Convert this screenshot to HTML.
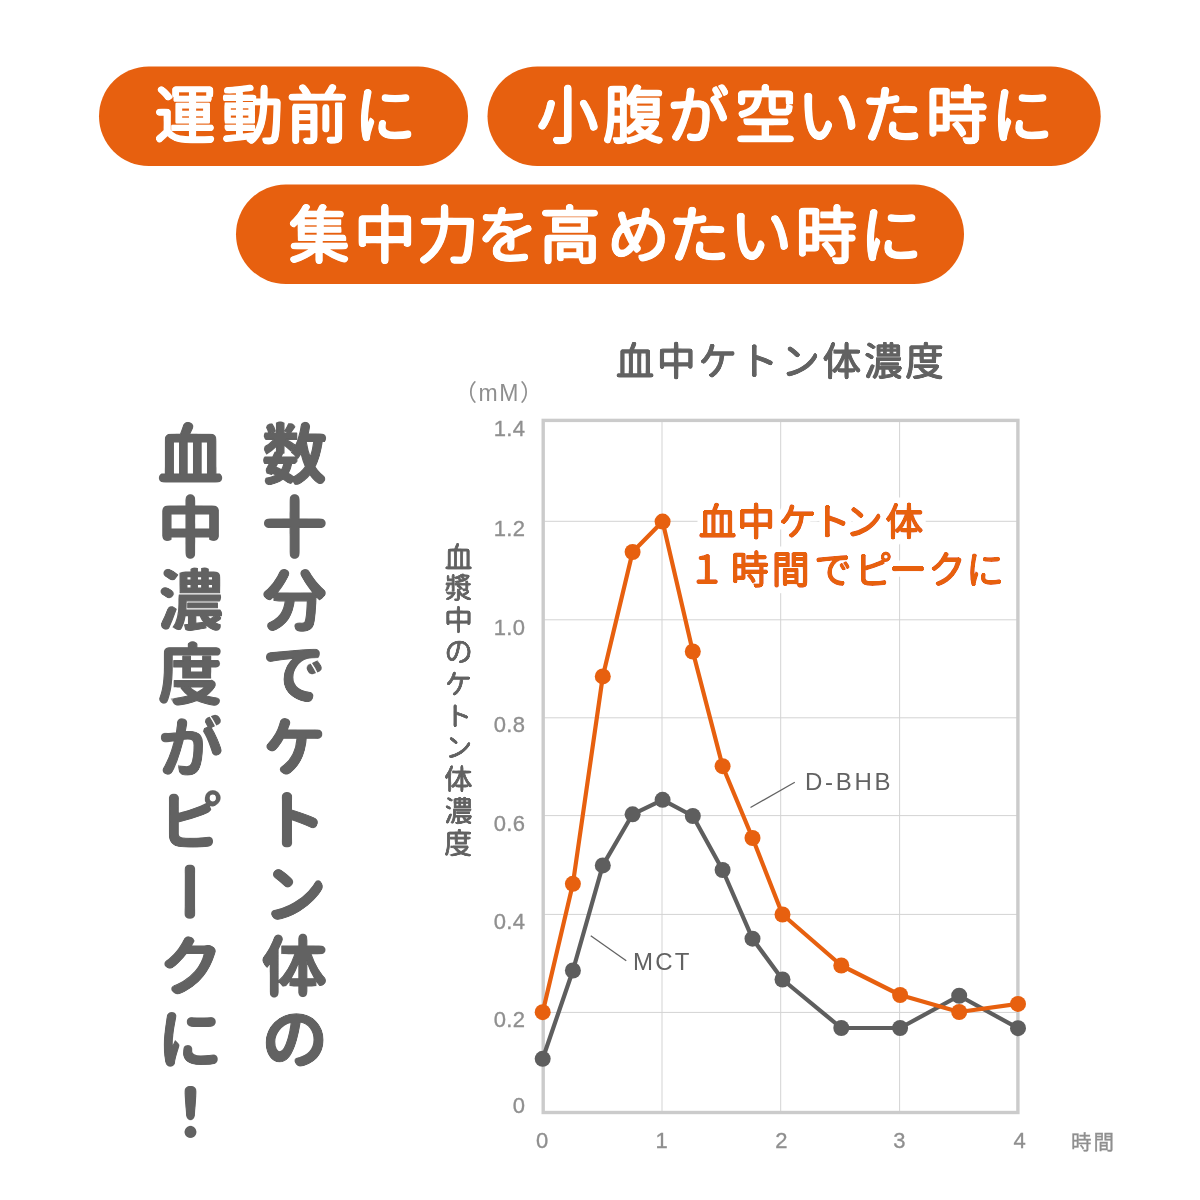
<!DOCTYPE html>
<html lang="ja"><head><meta charset="utf-8"><title>血中ケトン体濃度</title>
<style>
html,body{margin:0;padding:0;background:#fff}
body{width:1200px;height:1200px;overflow:hidden;position:relative}
svg{position:absolute;left:0;top:0;display:block}
text{font-family:'Liberation Sans','Noto Sans CJK JP',sans-serif}
.pill{font-size:62px;font-weight:400;fill:#fff;stroke:#fff;stroke-width:2.6px;stroke-linejoin:round;filter:url(#rndp)}
.big{writing-mode:vertical-rl;font-size:67px;font-weight:700;fill:#626262;stroke:#626262;stroke-width:1.2px;stroke-linejoin:round;letter-spacing:6.1px;filter:url(#rnd)}
.title{font-size:39px;font-weight:400;fill:#626262;stroke:#626262;stroke-width:1.4px;stroke-linejoin:round;letter-spacing:2.4px;filter:url(#rnd2)}
.ytitle{writing-mode:vertical-rl;font-size:29px;font-weight:400;fill:#626262;stroke:#626262;stroke-width:0.9px;stroke-linejoin:round;letter-spacing:2.8px;filter:url(#rnd3)}
.tick{font-size:22px;font-weight:400;fill:#8f8f8f;stroke:#8f8f8f;stroke-width:0.35px;letter-spacing:0.4px}
.unit{font-size:23px;font-weight:400;fill:#8f8f8f;letter-spacing:1.6px}
.lab{font-size:24px;font-weight:400;fill:#626262;letter-spacing:2.2px}
.note{font-size:38px;font-weight:400;fill:#E7600F;stroke:#E7600F;stroke-width:1.8px;stroke-linejoin:round;filter:url(#halo)}
</style></head><body>
<svg width="1200" height="1200" viewBox="0 0 1200 1200">
<filter id="rnd" x="-20%" y="-5%" width="140%" height="110%"><feGaussianBlur in="SourceAlpha" stdDeviation="3.2" result="b"/><feComponentTransfer in="b" result="t"><feFuncA type="linear" slope="10" intercept="-4.1"/></feComponentTransfer><feComposite in="SourceGraphic" in2="t" operator="in"/></filter>
<filter id="rndp" x="-5%" y="-20%" width="110%" height="140%"><feGaussianBlur in="SourceAlpha" stdDeviation="2.6" result="b"/><feComponentTransfer in="b" result="t"><feFuncA type="linear" slope="9" intercept="-3.5"/></feComponentTransfer><feComposite in="SourceGraphic" in2="t" operator="in"/></filter>
<filter id="rnd2" x="-5%" y="-20%" width="110%" height="140%"><feGaussianBlur in="SourceAlpha" stdDeviation="1.8" result="b"/><feComponentTransfer in="b" result="t"><feFuncA type="linear" slope="8" intercept="-3.1"/></feComponentTransfer><feComposite in="SourceGraphic" in2="t" operator="in"/></filter>
<filter id="rnd3" x="-20%" y="-5%" width="140%" height="110%"><feGaussianBlur in="SourceAlpha" stdDeviation="1.4" result="b"/><feComponentTransfer in="b" result="t"><feFuncA type="linear" slope="8" intercept="-3.2"/></feComponentTransfer><feComposite in="SourceGraphic" in2="t" operator="in"/></filter>
<filter id="halo" x="-5%" y="-30%" width="110%" height="160%"><feGaussianBlur in="SourceAlpha" stdDeviation="1.5" result="b0"/><feComponentTransfer in="b0" result="t0"><feFuncA type="linear" slope="8" intercept="-3.2"/></feComponentTransfer><feComposite in="SourceGraphic" in2="t0" operator="in" result="g"/><feMorphology in="g" operator="dilate" radius="4.5" result="d"/><feGaussianBlur in="d" stdDeviation="0.8" result="b"/><feComponentTransfer in="b" result="t"><feFuncA type="linear" slope="3" intercept="-0.5"/></feComponentTransfer><feFlood flood-color="#fff"/><feComposite in2="t" operator="in" result="h"/><feMerge><feMergeNode in="h"/><feMergeNode in="g"/></feMerge></filter>
<rect x="99" y="66.5" width="369" height="99.5" rx="49.75" fill="#E7600F"/>
<rect x="487.5" y="66.5" width="613.2" height="99.5" rx="49.75" fill="#E7600F"/>
<rect x="236" y="184.5" width="728" height="99.5" rx="49.75" fill="#E7600F"/>
<text class="pill" x="154.3 221.3 286.3 354.5" y="137.8">運動前に</text>
<text class="pill" x="536.6 602.8 667.5 734.6 797.5 861 926.1 991.6" y="138.2">小腹が空いた時に</text>
<text class="pill" x="288.2 354 416.8 476.4 539 607.6 667.9 730 795.5 860.6" y="257.8">集中力を高めたい時に</text>
<text class="big" x="288.4" y="420.3">数十分でケトン体の</text>
<text class="big" x="184.5" y="420.3">血中濃度がピークに！</text>
<text class="title" x="781" y="375" text-anchor="middle">血中ケトン体濃度</text>
<text class="unit" x="499.3" y="401" text-anchor="middle">（mM）</text>
<text class="ytitle" x="455.5" y="542">血漿中のケトン体濃度</text>
<line x1="542.9" y1="521.3" x2="1018.1" y2="521.3" stroke="#d3d3d3" stroke-width="1"/>
<line x1="542.9" y1="619.8" x2="1018.1" y2="619.8" stroke="#d3d3d3" stroke-width="1"/>
<line x1="542.9" y1="717.8" x2="1018.1" y2="717.8" stroke="#d3d3d3" stroke-width="1"/>
<line x1="542.9" y1="815.6" x2="1018.1" y2="815.6" stroke="#d3d3d3" stroke-width="1"/>
<line x1="542.9" y1="914.4" x2="1018.1" y2="914.4" stroke="#d3d3d3" stroke-width="1"/>
<line x1="542.9" y1="1012.4" x2="1018.1" y2="1012.4" stroke="#d3d3d3" stroke-width="1"/>
<line x1="662.0" y1="420.4" x2="662.0" y2="1112.5" stroke="#d3d3d3" stroke-width="1"/>
<line x1="780.7" y1="420.4" x2="780.7" y2="1112.5" stroke="#d3d3d3" stroke-width="1"/>
<line x1="899.6" y1="420.4" x2="899.6" y2="1112.5" stroke="#d3d3d3" stroke-width="1"/>
<rect x="543.2" y="420.4" width="474.7" height="692.1" fill="none" stroke="#cbcbcb" stroke-width="3.4"/>
<text class="tick" x="525.5" y="435.5" text-anchor="end">1.4</text>
<text class="tick" x="525.5" y="536.3" text-anchor="end">1.2</text>
<text class="tick" x="525.5" y="634.5" text-anchor="end">1.0</text>
<text class="tick" x="525.5" y="732" text-anchor="end">0.8</text>
<text class="tick" x="525.5" y="830.5" text-anchor="end">0.6</text>
<text class="tick" x="525.5" y="928.8" text-anchor="end">0.4</text>
<text class="tick" x="525.5" y="1027" text-anchor="end">0.2</text>
<text class="tick" x="525.5" y="1113.4" text-anchor="end">0</text>
<text class="tick" x="542.2" y="1148" text-anchor="middle">0</text>
<text class="tick" x="661.7" y="1148" text-anchor="middle">1</text>
<text class="tick" x="781.5" y="1148" text-anchor="middle">2</text>
<text class="tick" x="899.6" y="1148" text-anchor="middle">3</text>
<text class="tick" x="1019.8" y="1148" text-anchor="middle">4</text>
<text class="tick" x="1071" y="1149.5" style="letter-spacing:2px;font-size:20.5px">時間</text>
<line x1="590.75" y1="935.75" x2="626.25" y2="960.75" stroke="#626262" stroke-width="1.3"/>
<line x1="750.5" y1="807.5" x2="794.8" y2="782.2" stroke="#626262" stroke-width="1.3"/>
<text class="lab" x="633" y="969.8">MCT</text>
<text class="lab" x="805" y="789.5" style="letter-spacing:2.7px">D-BHB</text>
<polyline fill="none" stroke="#5e5e5e" stroke-width="4.2" stroke-linejoin="round" stroke-linecap="round" points="542.7,1058.8 572.9,970.5 602.8,865.4 632.6,814.3 662.6,799.8 692.8,816 722.6,870 752.5,938.7 782.5,979.5 841.3,1028 900.1,1028 959.2,995.75 1018.0,1028.2"/>
<circle cx="542.7" cy="1058.8" r="8" fill="#5e5e5e"/>
<circle cx="572.9" cy="970.5" r="8" fill="#5e5e5e"/>
<circle cx="602.8" cy="865.4" r="8" fill="#5e5e5e"/>
<circle cx="632.6" cy="814.3" r="8" fill="#5e5e5e"/>
<circle cx="662.6" cy="799.8" r="8" fill="#5e5e5e"/>
<circle cx="692.8" cy="816" r="8" fill="#5e5e5e"/>
<circle cx="722.6" cy="870" r="8" fill="#5e5e5e"/>
<circle cx="752.5" cy="938.7" r="8" fill="#5e5e5e"/>
<circle cx="782.5" cy="979.5" r="8" fill="#5e5e5e"/>
<circle cx="841.3" cy="1028" r="8" fill="#5e5e5e"/>
<circle cx="900.1" cy="1028" r="8" fill="#5e5e5e"/>
<circle cx="959.2" cy="995.75" r="8" fill="#5e5e5e"/>
<circle cx="1018.0" cy="1028.2" r="8" fill="#5e5e5e"/>
<polyline fill="none" stroke="#E7600F" stroke-width="4.2" stroke-linejoin="round" stroke-linecap="round" points="542.7,1012.2 572.9,883.8 602.8,676.4 632.6,552 662.6,521.6 692.8,651.5 722.6,766.2 752.5,838 782.5,914.5 841.3,965.5 900.1,995 959.2,1012 1018.0,1003.9"/>
<circle cx="542.7" cy="1012.2" r="8" fill="#E7600F"/>
<circle cx="572.9" cy="883.8" r="8" fill="#E7600F"/>
<circle cx="602.8" cy="676.4" r="8" fill="#E7600F"/>
<circle cx="632.6" cy="552" r="8" fill="#E7600F"/>
<circle cx="662.6" cy="521.6" r="8" fill="#E7600F"/>
<circle cx="692.8" cy="651.5" r="8" fill="#E7600F"/>
<circle cx="722.6" cy="766.2" r="8" fill="#E7600F"/>
<circle cx="752.5" cy="838" r="8" fill="#E7600F"/>
<circle cx="782.5" cy="914.5" r="8" fill="#E7600F"/>
<circle cx="841.3" cy="965.5" r="8" fill="#E7600F"/>
<circle cx="900.1" cy="995" r="8" fill="#E7600F"/>
<circle cx="959.2" cy="1012" r="8" fill="#E7600F"/>
<circle cx="1018.0" cy="1003.9" r="8" fill="#E7600F"/>
<text class="note" x="698.5 737.2 778.5 812.9 844.9 885.4" y="534.8">血中ケトン体</text>
<text class="note" x="687.8 730.9 771.8 813.9 854.5 889 928.1 966.3" y="583">１時間でピークに</text>
</svg>
</body></html>
